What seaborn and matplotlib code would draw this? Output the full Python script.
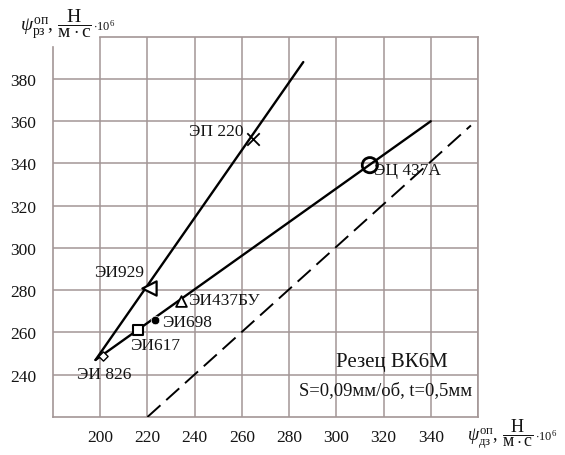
import matplotlib
matplotlib.use("Agg")
import matplotlib.pyplot as plt
import seaborn as sns
import pandas as pd

# Regression lines (endpoints) for the two groups of alloys and the reference y = x line
steep_x = [198, 286]
steep_y = [247, 388]
shallow_x = [198, 340]
shallow_y = [247, 360]
diag_x = [220, 357]
diag_y = [220, 358]

# Individual alloys
alloys = ["ЭИ 826", "ЭИ929", "ЭП 220", "ЭИ617", "ЭИ698", "ЭИ437БУ", "ЭЦ 437А"]
alloy_x = [201, 220.5, 264.5, 215.8, 223, 234, 314.2]
alloy_y = [249, 281, 351.5, 261.3, 266, 275, 339.2]

x_ticks = [200, 220, 240, 260, 280, 300, 320, 340]
y_ticks = [240, 260, 280, 300, 320, 340, 360, 380]

sns.set_theme(style="white")
plt.rcParams["font.family"] = ["Liberation Serif", "DejaVu Serif"]
plt.rcParams["mathtext.fontset"] = "custom"
plt.rcParams["mathtext.rm"] = "Liberation Serif"
plt.rcParams["mathtext.it"] = "Liberation Serif:italic"
plt.rcParams["mathtext.bf"] = "Liberation Serif:bold"

ink = "#141414"
grid_c = "#a39696"
fig = plt.figure(figsize=(5.65, 4.56), dpi=100)
ax = fig.add_axes([53 / 565, 1 - 418 / 456, (478 - 53) / 565, (418 - 37.7) / 456])
ax.set_xlim(180, 360)
ax.set_ylim(220, 400)

# grid
for gx in range(200, 361, 20):
    ax.axvline(gx, color=grid_c, lw=1.1, zorder=0)
for gy in range(240, 400, 20):
    ax.axhline(gy, color=grid_c, lw=1.1, zorder=0)
for side in ["left", "bottom", "right", "top"]:
    ax.spines[side].set_color(grid_c)
    ax.spines[side].set_linewidth(1.2)
ax.spines["top"].set_bounds(200, 360)
ax.spines["left"].set_bounds(220, 395)

lines = pd.DataFrame({
    "x": steep_x + shallow_x,
    "y": steep_y + shallow_y,
    "grp": ["steep"] * 2 + ["shallow"] * 2,
})
sns.lineplot(data=lines, x="x", y="y", units="grp", estimator=None,
             color="black", lw=1.7, ax=ax, zorder=3)
sns.lineplot(x=diag_x, y=diag_y, color="black", lw=1.4, ax=ax, zorder=3,
             linestyle=(0, (9, 4)))

pts = pd.DataFrame({"x": alloy_x, "y": alloy_y, "name": alloys})
styles = {
    "ЭИ 826": dict(marker="D", s=22, facecolor="white", edgecolor="black", linewidth=1.0),
    "ЭИ929": dict(marker="<", s=105, facecolor="white", edgecolor="black", linewidth=1.6),
    "ЭП 220": dict(marker="x", s=80, color="black", linewidth=1.3),
    "ЭИ617": dict(marker="s", s=50, facecolor="white", edgecolor="black", linewidth=1.5),
    "ЭИ698": dict(marker="o", s=38, color="black", linewidth=0.5),
    "ЭИ437БУ": dict(marker="^", s=60, facecolor="white", edgecolor="black", linewidth=1.3),
    "ЭЦ 437А": dict(marker="o", s=120, facecolor="none", edgecolor="black", linewidth=2.0),
}
for name, st in styles.items():
    sub = pts[pts["name"] == name]
    sns.scatterplot(data=sub, x="x", y="y", ax=ax, zorder=4, legend=False, **st)

fs = 12.5
labels = [
    ("ЭИ 826", 201.7, 240.3, "center"),
    ("ЭИ617", 223.3, 254.0, "center"),
    ("ЭИ698", 226.3, 265.1, "left"),
    ("ЭИ437БУ", 237.3, 275.5, "left"),
    ("ЭИ929", 208.0, 288.6, "center"),
    ("ЭП 220", 260.7, 355.4, "right"),
    ("ЭЦ 437А", 315.9, 336.9, "left"),
]
for txt, tx, ty, ha in labels:
    ax.text(tx, ty, txt, ha=ha, va="center", fontsize=fs, color=ink, zorder=5)

ax.text(299.8, 246.5, "Резец ВК6М", ha="left", va="center", fontsize=15, color=ink)
ax.text(284.0, 232.8, "S=0,09мм/об, t=0,5мм", ha="left", va="center", fontsize=13.4, color=ink)

ax.set_xticks(x_ticks)
ax.set_yticks(y_ticks)
ax.set_xticklabels([str(v) for v in x_ticks])
ax.set_yticklabels([str(v) for v in y_ticks])
ax.tick_params(axis="both", length=0, labelsize=12.5, colors=ink)
ax.tick_params(axis="x", pad=9)
ax.tick_params(axis="y", pad=12)
ax.set_xlabel("")
ax.set_ylabel("")

# axis titles: symbol with unit fraction, then a small scale factor
unit = r"\dfrac{\mathrm{Н}}{\mathrm{м\cdot с}}"
fig.text(20 / 565, 1 - 24 / 456,
         r"$\psi^{\mathrm{оп}}_{\mathrm{рз}},\," + unit + "$",
         ha="left", va="center", fontsize=14, color=ink)
fig.text(93 / 565, 1 - 26 / 456, r"$\cdot 10^6$",
         ha="left", va="center", fontsize=9, color=ink)
fig.text(467 / 565, 1 - 434 / 456,
         r"$\psi^{\mathrm{оп}}_{\mathrm{дз}},\," + unit + "$",
         ha="left", va="center", fontsize=13, color=ink)
fig.text(535 / 565, 1 - 436 / 456, r"$\cdot 10^6$",
         ha="left", va="center", fontsize=9, color=ink)

fig.savefig("out.png", dpi=100)
